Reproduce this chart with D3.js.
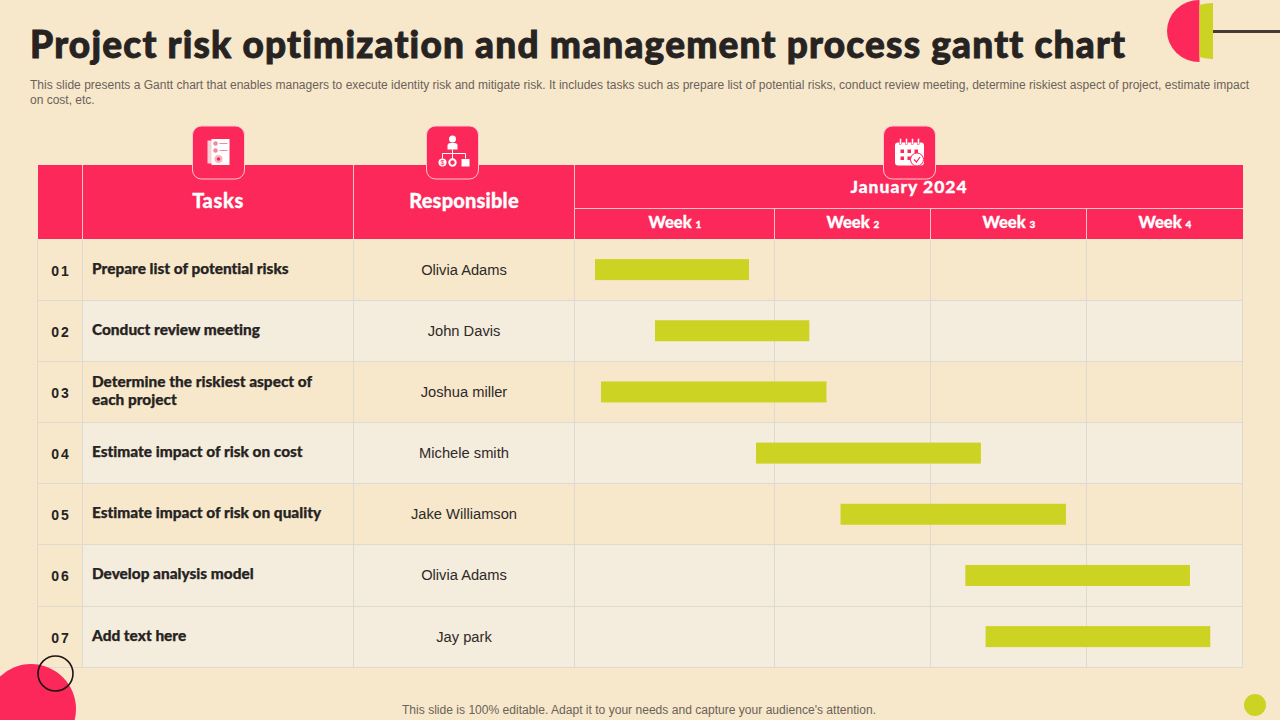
<!DOCTYPE html>
<html>
<head>
<meta charset="utf-8">
<script src="https://cdn.jsdelivr.net/npm/d3@7"></script>
<style>
  html, body { margin: 0; padding: 0; background: #f7e8cb; }
  svg { display: block; }
  text { font-variant-ligatures: none; }
</style>
</head>
<body>
<svg id="chart" width="1280" height="720"></svg>
<script>
// chart values
const rowNumbers = ["01", "02", "03", "04", "05", "06", "07"];
const tasks = [
  ["Prepare list of potential risks"],
  ["Conduct review meeting"],
  ["Determine the riskiest aspect of", "each project"],
  ["Estimate impact of risk on cost"],
  ["Estimate impact of risk on quality"],
  ["Develop analysis model"],
  ["Add text here"]
];
const responsible = ["Olivia Adams", "John Davis", "Joshua miller", "Michele smith", "Jake Williamson", "Olivia Adams", "Jay park"];
const weeks = ["1", "2", "3", "4"];
// bar start and end, in weeks from the start of the month
const barStart = [0.10, 0.40, 0.13, 0.905, 1.42, 2.22, 2.35];
const barEnd = [0.87, 1.22, 1.33, 2.32, 2.865, 3.66, 3.79];
// rows 1, 3 and 5 keep the page colour, the others are lighter
const lightRows = [false, true, false, true, false, true, true];

const RED = "#fb2859", LIME = "#cdd323", DARK = "#262322", BG = "#f7e8cb", LIGHT = "#f4ecdc", GRID = "#dedad0";
const TITLE_FONT = "Lato, sans-serif";
const BODY_FONT = "'Liberation Sans', Arial, sans-serif";

const svg = d3.select("#chart");

// week columns are not the same width, so the scale has one stop per week
const x = d3.scaleLinear().domain([0, 1, 2, 3, 4]).range([575, 775, 931, 1087, 1243]);
const y = d3.scaleBand().domain(rowNumbers).range([239, 667.2]);

const colX = [38, 83, 354, 575];
const headTop = 165, headMid = 208.5, headBottom = 239;

// background decoration
svg.append("rect").attr("width", 1280).attr("height", 720).attr("fill", BG);
svg.append("path").attr("d", "M1199.5,0 A32.5,31 0 0 0 1199.5,62 Z").attr("fill", RED);
svg.append("path").attr("d", "M1199.5,5 Q1206,3 1213,3 V59 Q1206,59 1199.5,57 Z").attr("fill", LIME);
svg.append("rect").attr("x", 1213).attr("y", 30).attr("width", 67).attr("height", 3).attr("fill", "#463c36");
svg.append("circle").attr("cx", 1255).attr("cy", 705).attr("r", 11).attr("fill", LIME);

// title and intro
svg.append("text").attr("x", 30).attr("y", 58).attr("textLength", 1095)
  .attr("lengthAdjust", "spacing")
  .attr("font-family", TITLE_FONT).attr("font-weight", 900).attr("font-size", 37).attr("fill", DARK)
  .attr("stroke", DARK).attr("stroke-width", 0.9)
  .text("Project risk optimization and management process gantt chart");

const intro = [
  "This slide presents a Gantt chart that enables managers to execute identity risk and mitigate risk. It includes tasks such as prepare list of potential risks, conduct review meeting, determine riskiest aspect of project, estimate impact",
  "on cost, etc."
];
svg.selectAll("text.intro").data(intro).join("text").attr("class", "intro")
  .attr("x", 30).attr("y", (d, i) => 89 + i * 14.5)
  .attr("font-family", BODY_FONT).attr("font-size", 12).attr("fill", "#6b625a")
  .each(function (d, i) { if (i === 0) d3.select(this).attr("textLength", 1219).attr("lengthAdjust", "spacingAndGlyphs"); })
  .text(d => d);

// table body, the number column stays page coloured
const rows = svg.append("g").selectAll("g").data(rowNumbers).join("g");
rows.append("rect").attr("x", colX[1]).attr("width", 1243 - colX[1])
  .attr("y", d => y(d)).attr("height", y.bandwidth())
  .attr("fill", (d, i) => lightRows[i] ? LIGHT : BG);

// grid lines, pulled half a pixel left so crispEdges lands on the slide's columns
const grid = svg.append("g").attr("stroke", GRID).attr("stroke-width", 1).attr("shape-rendering", "crispEdges");
grid.selectAll("line.h").data(rowNumbers).join("line").attr("class", "h")
  .attr("x1", colX[0]).attr("x2", 1243)
  .attr("y1", d => y(d) + y.bandwidth()).attr("y2", d => y(d) + y.bandwidth());
grid.selectAll("line.v").data([38, 83, 354, 575, x(1), x(2), x(3), 1243]).join("line").attr("class", "v")
  .attr("x1", d => d - 0.5).attr("x2", d => d - 0.5).attr("y1", headBottom).attr("y2", 667.2);

// gantt bars
svg.append("g").selectAll("rect").data(rowNumbers).join("rect")
  .attr("x", (d, i) => x(barStart[i]))
  .attr("width", (d, i) => x(barEnd[i]) - x(barStart[i]))
  .attr("y", d => y(d) + y.bandwidth() / 2 - 10.5)
  .attr("height", 21)
  .attr("fill", LIME);

// row text
rows.append("text").attr("x", 61).attr("y", d => y(d) + y.bandwidth() / 2 + 6)
  .attr("text-anchor", "middle").attr("font-family", BODY_FONT).attr("font-weight", 700)
  .attr("font-size", 14).attr("letter-spacing", 2).attr("fill", DARK).text(d => d);
rows.each(function (d, i) {
  const lines = tasks[i];
  const mid = y(d) + y.bandwidth() / 2;
  d3.select(this).selectAll("text.task").data(lines).join("text").attr("class", "task")
    .attr("x", 92).attr("y", (l, j) => mid + 4 - (lines.length - 1) * 9 + j * 18)
    .attr("font-family", TITLE_FONT).attr("font-weight", 900).attr("font-size", 15.4).attr("fill", DARK)
    .attr("stroke", DARK).attr("stroke-width", 0.25)
    .text(l => l);
});
rows.append("text").attr("x", 464).attr("y", d => y(d) + y.bandwidth() / 2 + 5)
  .attr("text-anchor", "middle").attr("font-family", BODY_FONT).attr("font-size", 14.7).attr("fill", "#2e2a28")
  .text((d, i) => responsible[i]);

// table header
svg.append("rect").attr("x", colX[0]).attr("y", headTop).attr("width", 1243 - colX[0]).attr("height", headBottom - headTop).attr("fill", RED);
const headLines = svg.append("g").attr("stroke", "#f9c5c8").attr("stroke-width", 1).attr("shape-rendering", "crispEdges");
[83, 354, 575].forEach(d => headLines.append("line").attr("x1", d - 0.5).attr("x2", d - 0.5).attr("y1", headTop).attr("y2", headBottom));
headLines.append("line").attr("x1", 575).attr("x2", 1243).attr("y1", headMid).attr("y2", headMid);
[1, 2, 3].forEach(d => headLines.append("line").attr("x1", x(d) - 0.5).attr("x2", x(d) - 0.5).attr("y1", headMid).attr("y2", headBottom));

function headText(tx, ty, s, size) {
  return svg.append("text").attr("x", tx).attr("y", ty).attr("text-anchor", "middle")
    .attr("font-family", TITLE_FONT).attr("font-weight", 900).attr("font-size", size).attr("fill", "#fff")
    .attr("stroke", "#fff").attr("stroke-width", 0.3).text(s);
}
headText(218, 208, "Tasks", 20).attr("letter-spacing", 0.6);
headText(464, 208, "Responsible", 20).attr("letter-spacing", 0.2);
headText(909, 193, "January 2024", 17.5).attr("letter-spacing", 1);
weeks.forEach((w, i) => {
  const t = headText((x(i) + x(i + 1)) / 2, 228, "Week ", 16.5);
  t.append("tspan").attr("font-size", 10).text(w);
});

// icon tiles
function tile(cx) {
  const g = svg.append("g").attr("transform", `translate(${cx},152.5)`);
  g.append("rect").attr("x", -26).attr("y", -26.5).attr("width", 52).attr("height", 53).attr("rx", 9)
    .attr("fill", RED).attr("stroke", "#fbc9cc").attr("stroke-width", 1);
  return g;
}

// tasks icon: stacked checklist sheets
const t1 = tile(218.5);
t1.append("rect").attr("x", -11).attr("y", -12).attr("width", 17).attr("height", 23).attr("fill", "#f9cfd6");
t1.append("rect").attr("x", -7).attr("y", -13.5).attr("width", 18).attr("height", 26).attr("fill", "#fff");
[-9, -2].forEach(v => {
  t1.append("circle").attr("cx", -3).attr("cy", v).attr("r", 2.3).attr("fill", "#f08aa0");
  t1.append("line").attr("x1", 1).attr("x2", 9).attr("y1", v).attr("y2", v).attr("stroke", "#f08aa0").attr("stroke-width", 1);
});
t1.append("circle").attr("cx", 0).attr("cy", 6.5).attr("r", 4).attr("fill", "#f8b5c4");
t1.append("circle").attr("cx", 0).attr("cy", 6.5).attr("r", 1.8).attr("fill", RED);

// responsible icon: person over an org tree
const t2 = tile(452.5);
t2.append("circle").attr("cx", 0).attr("cy", -13.5).attr("r", 3.5).attr("fill", "#fff");
t2.append("path").attr("d", "M-5,-3 L-5,-7 Q-5,-9.5 -2,-9.5 L2,-9.5 Q5,-9.5 5,-7 L5,-3 Z").attr("fill", "#fff");
t2.append("path").attr("d", "M0,-3 V7 M-10,6 V1 H13 V6").attr("fill", "none").attr("stroke", "#fff").attr("stroke-width", 1);
t2.append("circle").attr("cx", -10).attr("cy", 10).attr("r", 4).attr("fill", "#fff");
t2.append("circle").attr("cx", 0).attr("cy", 10).attr("r", 3.2).attr("fill", "none").attr("stroke", "#fff").attr("stroke-width", 2);
t2.append("rect").attr("x", 9).attr("y", 6.5).attr("width", 8).attr("height", 7.5).attr("fill", "#fff");
t2.append("text").attr("x", -10).attr("y", 12.5).attr("text-anchor", "middle").attr("font-size", 7)
  .attr("font-family", BODY_FONT).attr("fill", RED).text("$");

// calendar icon
const t3 = tile(909.5);
t3.append("rect").attr("x", -14.5).attr("y", -10).attr("width", 29).attr("height", 23).attr("rx", 3).attr("fill", "#fff");
[-9, -3, 3, 9].forEach(v => t3.append("rect").attr("x", v - 1).attr("y", -14).attr("width", 2).attr("height", 6)
  .attr("fill", "#fff").attr("stroke", RED).attr("stroke-width", 0.5));
[[-9, -3], [-2, -3], [5, -3], [-9, 4], [-2, 4]].forEach(p => {
  t3.append("rect").attr("x", p[0]).attr("y", p[1]).attr("width", 3.5).attr("height", 3.5).attr("fill", RED);
});
t3.append("circle").attr("cx", 7.5).attr("cy", 7).attr("r", 6.5).attr("fill", "#fff").attr("stroke", RED).attr("stroke-width", 1);
t3.append("path").attr("d", "M4.5,7 L7,9.5 L10.5,4.5").attr("fill", "none").attr("stroke", RED).attr("stroke-width", 1.2);

// bottom left circles, drawn over the table
svg.append("circle").attr("cx", 31).attr("cy", 709).attr("r", 45).attr("fill", RED);
svg.append("circle").attr("cx", 55.5).attr("cy", 673.5).attr("r", 17.5).attr("fill", "none").attr("stroke", "#1d1413").attr("stroke-width", 1.6);

// footer
svg.append("text").attr("x", 639).attr("y", 714).attr("text-anchor", "middle")
  .attr("font-family", BODY_FONT).attr("font-size", 12).attr("fill", "#6b625a")
  .attr("textLength", 474).attr("lengthAdjust", "spacingAndGlyphs")
  .text("This slide is 100% editable. Adapt it to your needs and capture your audience's attention.");
</script>
</body>
</html>
